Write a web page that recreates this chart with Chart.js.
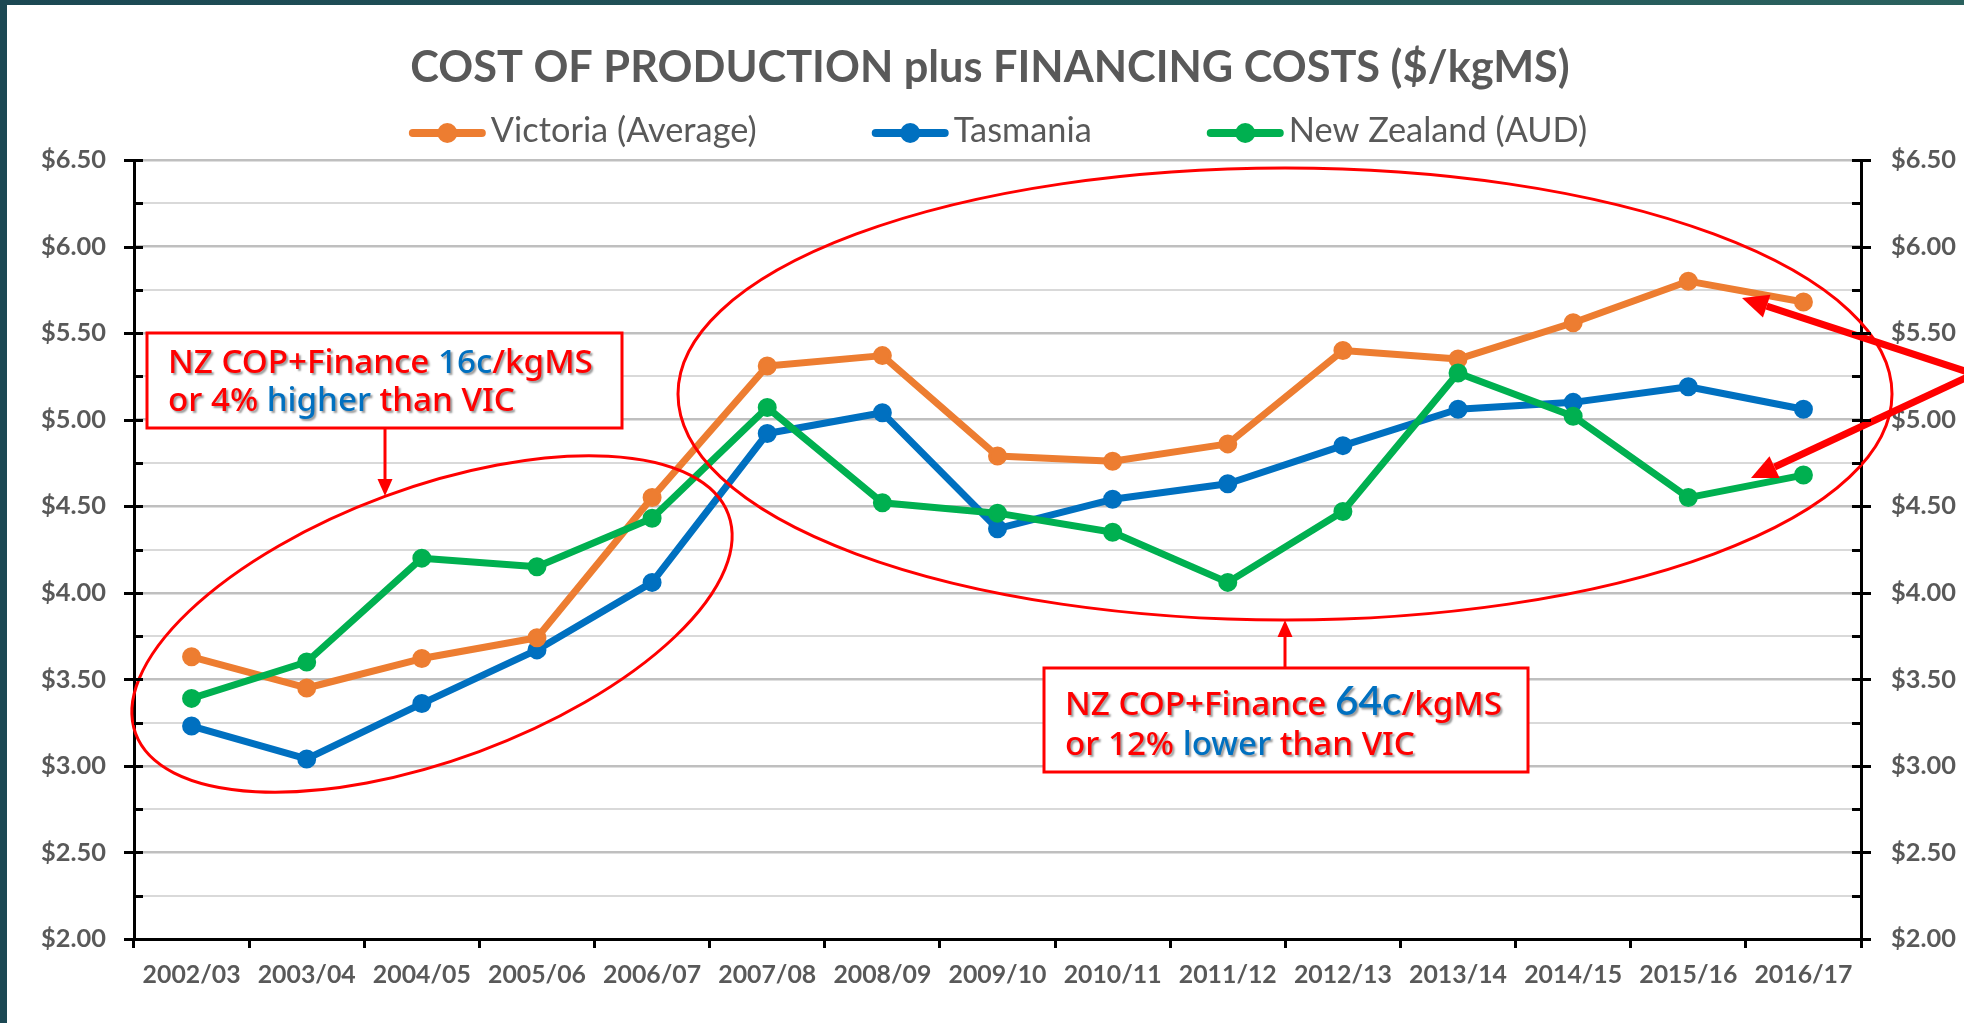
<!DOCTYPE html>
<html>
<head>
<meta charset="utf-8">
<title>Cost of production plus financing costs</title>
<script src="https://cdn.jsdelivr.net/npm/chart.js@4.4.1/dist/chart.umd.min.js"></script>
<style>
  html, body { margin: 0; padding: 0; background: #fff; }
  #chart { display: block; }
</style>
</head>
<body>
<canvas id="chart" width="1964" height="1023"></canvas>
<script>
// data ($/kgMS)
const seasons = ['2002/03', '2003/04', '2004/05', '2005/06', '2006/07', '2007/08', '2008/09',
  '2009/10', '2010/11', '2011/12', '2012/13', '2013/14', '2014/15', '2015/16', '2016/17'];
const victoria = [3.63, 3.45, 3.62, 3.74, 4.55, 5.31, 5.37, 4.79, 4.76, 4.86, 5.40, 5.35, 5.56, 5.80, 5.68];
const tasmania = [3.23, 3.04, 3.36, 3.67, 4.06, 4.92, 5.04, 4.37, 4.54, 4.63, 4.85, 5.06, 5.10, 5.19, 5.06];
const newZealand = [3.39, 3.60, 4.20, 4.15, 4.43, 5.07, 4.52, 4.46, 4.35, 4.06, 4.47, 5.27, 5.02, 4.55, 4.68];
const seriesNames = ['Victoria (Average)', 'Tasmania', 'New Zealand (AUD)'];
const seriesColors = ['#ED7D31', '#0070C0', '#00B050'];
const yMin = 2;
const yMax = 6.5;
const yStep = 0.25;
const chartTitle = 'COST OF PRODUCTION plus FINANCING COSTS ($/kgMS)';

const GREY = '#595959';
const RED = '#FF0000';
const BLUE = '#0070C0';
const SANS = 'Lato, "Open Sans", sans-serif';
const NOTE_FONT = '"Noto Sans", "DejaVu Sans", sans-serif';
const NOTE_WEIGHT = 500;

// pick font sizes so the substitute fonts take the same width as the original text
const measureCtx = document.createElement('canvas').getContext('2d');
function fitSize(text, weight, family, width) {
  measureCtx.font = `${weight} 100px ${family}`;
  return 100 * width / measureCtx.measureText(text).width;
}
const titleSize = fitSize(chartTitle, 'bold', SANS, 1160);
const legendSize = fitSize(seriesNames[0], 'normal', SANS, 266);
const yTickSize = fitSize('$6.50', 'bold', SANS, 65);
const xTickSize = fitSize(seasons[0], 'bold', SANS, 98);
const noteSize = fitSize('NZ COP+Finance 16c/kgMS', NOTE_WEIGHT, NOTE_FONT, 425);

const isMajor = (v) => Math.abs(v * 2 - Math.round(v * 2)) < 1e-6;
const money = (v) => (isMajor(v) ? '$' + Number(v).toFixed(2) : '');

const backdrop = {
  id: 'backdrop',
  beforeDraw(chart) {
    const { ctx, width, height } = chart;
    ctx.save();
    ctx.fillStyle = '#fff';
    ctx.fillRect(0, 0, width, height);
    const g = ctx.createLinearGradient(0, 0, width, 0);
    g.addColorStop(0, '#1b4853');
    g.addColorStop(1, '#2a615e');
    ctx.fillStyle = g;
    ctx.fillRect(0, 0, width, 5);
    ctx.fillRect(0, 0, 7, height);
    ctx.restore();
  },
};

const header = {
  id: 'header',
  afterDraw(chart) {
    const { ctx } = chart;
    ctx.save();
    ctx.fillStyle = GREY;
    ctx.textBaseline = 'alphabetic';
    ctx.textAlign = 'center';
    ctx.font = `bold ${titleSize}px ${SANS}`;
    ctx.fillText(chartTitle, 990, 82);

    // legend: line with a dot, like the original
    ctx.font = `${legendSize}px ${SANS}`;
    ctx.textAlign = 'left';
    const markW = 77;
    const gapText = 5;
    const gapItem = 115;
    const widths = seriesNames.map((n) => ctx.measureText(n).width);
    const total = widths.reduce((a, w) => a + markW + gapText + w, 0) + gapItem * (seriesNames.length - 1);
    let x = 998 - total / 2;
    const cy = 133;
    seriesNames.forEach((name, i) => {
      ctx.strokeStyle = seriesColors[i];
      ctx.fillStyle = seriesColors[i];
      ctx.lineWidth = 8;
      ctx.lineCap = 'round';
      ctx.beginPath();
      ctx.moveTo(x + 4, cy);
      ctx.lineTo(x + markW - 4, cy);
      ctx.stroke();
      ctx.beginPath();
      ctx.arc(x + markW / 2, cy, 10, 0, Math.PI * 2);
      ctx.fill();
      ctx.fillStyle = GREY;
      ctx.fillText(name, x + markW + gapText, 142);
      x += markW + gapText + widths[i] + gapItem;
    });
    ctx.restore();
  },
};

// y tick marks: major ones cross the axis, minor ones point inwards
const axisTicks = {
  id: 'axisTicks',
  afterDraw(chart) {
    const { ctx } = chart;
    ctx.save();
    ctx.strokeStyle = '#000';
    ctx.lineWidth = 3;
    ['y', 'y2'].forEach((id) => {
      const scale = chart.scales[id];
      const x = id === 'y' ? scale.right : scale.left;
      const dir = id === 'y' ? 1 : -1;
      scale.ticks.forEach((t) => {
        const py = Math.round(scale.getPixelForValue(t.value)) + 0.5;
        ctx.beginPath();
        ctx.moveTo(x - (isMajor(t.value) ? 10 : 0) * dir, py);
        ctx.lineTo(x + 9 * dir, py);
        ctx.stroke();
      });
    });
    ctx.restore();
  },
};

function arrow(ctx, x1, y1, x2, y2, width, headLen, headW) {
  const a = Math.atan2(y2 - y1, x2 - x1);
  const bx = x2 - headLen * Math.cos(a);
  const by = y2 - headLen * Math.sin(a);
  ctx.lineWidth = width;
  ctx.lineCap = 'butt';
  ctx.beginPath();
  ctx.moveTo(x1, y1);
  ctx.lineTo(bx, by);
  ctx.stroke();
  ctx.beginPath();
  ctx.moveTo(x2, y2);
  ctx.lineTo(bx + (headW / 2) * Math.sin(a), by - (headW / 2) * Math.cos(a));
  ctx.lineTo(bx - (headW / 2) * Math.sin(a), by + (headW / 2) * Math.cos(a));
  ctx.closePath();
  ctx.fill();
}

function runs(ctx, x, y, parts) {
  parts.forEach(([text, color, font]) => {
    ctx.font = font || `${NOTE_WEIGHT} ${noteSize}px ${NOTE_FONT}`;
    ctx.fillStyle = color;
    ctx.fillText(text, x, y);
    x += ctx.measureText(text).width;
  });
}

const notes = {
  id: 'notes',
  afterDatasetsDraw(chart) {
    const { ctx } = chart;
    ctx.save();
    ctx.strokeStyle = RED;
    ctx.fillStyle = RED;
    ctx.lineWidth = 3;
    ctx.beginPath();
    ctx.ellipse(432, 624, 316, 136, -0.354, 0, Math.PI * 2);
    ctx.stroke();
    ctx.beginPath();
    ctx.ellipse(1285, 394, 607, 226, 0, 0, Math.PI * 2);
    ctx.stroke();

    arrow(ctx, 385, 429, 385, 496, 3, 17, 15);
    arrow(ctx, 1285, 668, 1285, 620, 3, 17, 15);
    arrow(ctx, 1974, 374, 1742, 298, 7, 26, 24);
    arrow(ctx, 1974, 374, 1751, 478, 7, 26, 24);

    [[147, 333, 475, 95], [1044, 668, 484, 104]].forEach(([bx, by, bw, bh]) => {
      ctx.fillStyle = '#fff';
      ctx.fillRect(bx, by, bw, bh);
      ctx.strokeStyle = RED;
      ctx.lineWidth = 3;
      ctx.strokeRect(bx, by, bw, bh);
    });

    ctx.shadowColor = 'rgba(0,0,0,0.4)';
    ctx.shadowBlur = 2;
    ctx.shadowOffsetX = 2;
    ctx.shadowOffsetY = 2;
    ctx.textAlign = 'left';
    ctx.textBaseline = 'alphabetic';
    runs(ctx, 168, 373, [['NZ COP+Finance ', RED], ['16c', BLUE], ['/kgMS', RED]]);
    runs(ctx, 168, 411, [['or 4% ', RED], ['higher', BLUE], [' than VIC', RED]]);
    runs(ctx, 1065, 715, [['NZ COP+Finance ', RED], ['64c', BLUE, `600 ${noteSize * 1.22}px ${SANS}`], ['/kgMS', RED]]);
    runs(ctx, 1065, 755, [['or 12% ', RED], ['lower', BLUE], [' than VIC', RED]]);
    ctx.restore();
  },
};

const datasets = [victoria, tasmania, newZealand].map((values, i) => ({
  label: seriesNames[i],
  data: values,
  borderColor: seriesColors[i],
  backgroundColor: seriesColors[i],
  borderWidth: 7,
  borderJoinStyle: 'round',
  borderCapStyle: 'round',
  pointRadius: 8,
  pointBorderWidth: 3,
  pointHoverRadius: 8,
  tension: 0,
  order: [2, 3, 1][i],
  yAxisID: 'y',
}));

const yTicks = (pad) => ({
  stepSize: yStep,
  autoSkip: false,
  color: GREY,
  padding: pad,
  font: { family: SANS, weight: 'bold', size: yTickSize },
  callback: money,
});

new Chart(document.getElementById('chart'), {
  type: 'line',
  data: { labels: seasons, datasets },
  options: {
    responsive: false,
    animation: false,
    layout: { padding: { top: 160, left: 0, right: 0, bottom: 0 } },
    plugins: {
      legend: { display: false },
      title: { display: false },
      tooltip: { enabled: false },
    },
    scales: {
      x: {
        offset: true,
        grid: { offset: true, drawOnChartArea: false, drawTicks: true, tickLength: 9, color: '#000', lineWidth: 3 },
        border: { color: '#000', width: 3 },
        ticks: {
          color: GREY,
          padding: 12,
          maxRotation: 0,
          autoSkip: false,
          font: { family: SANS, weight: 'bold', size: xTickSize },
        },
        afterFit(scale) { scale.height = 84; },
      },
      y: {
        position: 'left',
        min: yMin,
        max: yMax,
        ticks: yTicks(28),
        grid: {
          drawTicks: false,
          color: (c) => (isMajor(c.tick.value) ? '#BFBFBF' : '#D9D9D9'),
          lineWidth: (c) => (isMajor(c.tick.value) ? 2.5 : 2),
        },
        border: { color: '#000', width: 3 },
        afterFit(scale) { scale.width = 134; },
      },
      y2: {
        position: 'right',
        min: yMin,
        max: yMax,
        ticks: yTicks(30),
        grid: { drawOnChartArea: false, drawTicks: false },
        border: { color: '#000', width: 3 },
        afterFit(scale) { scale.width = 103; },
      },
    },
  },
  plugins: [backdrop, axisTicks, notes, header],
});
</script>
</body>
</html>
